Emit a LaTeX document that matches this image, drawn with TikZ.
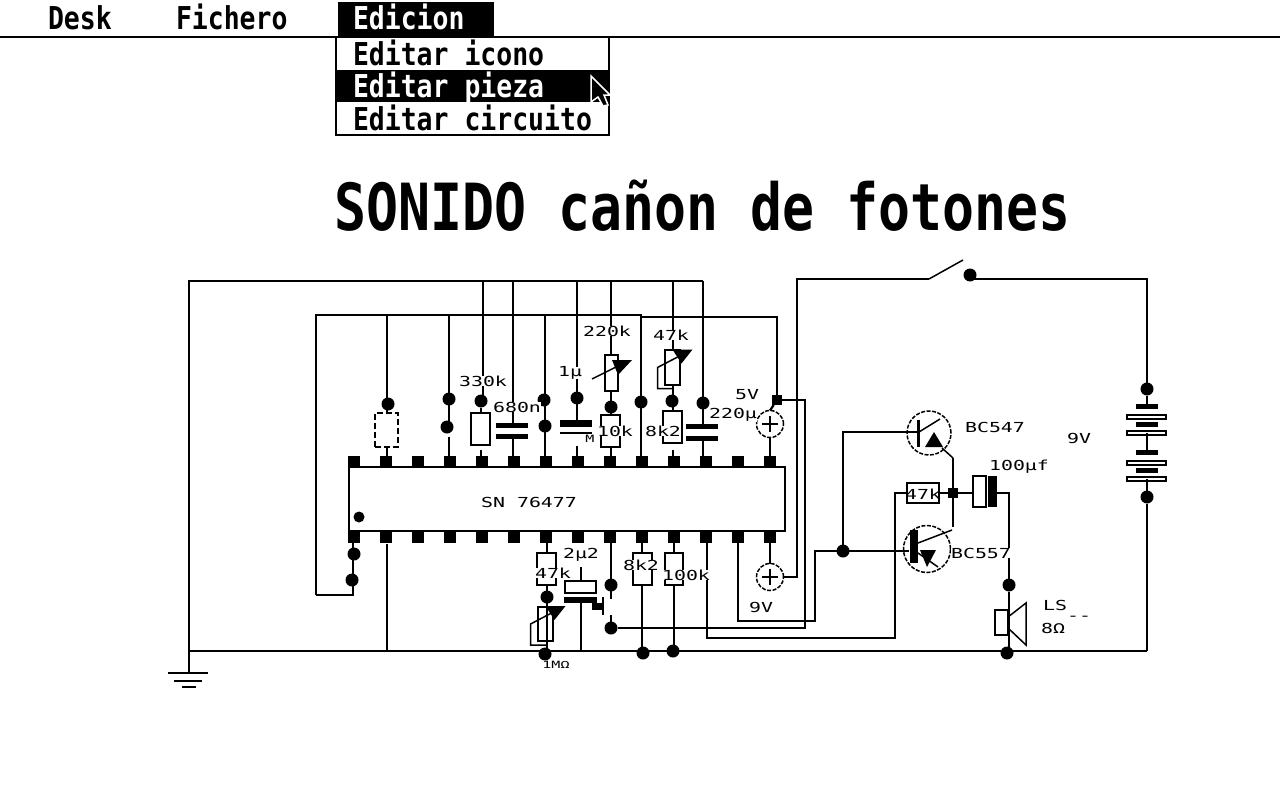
\documentclass[tikz,border=0pt]{standalone}
\usepackage{fontspec}
\usetikzlibrary{positioning}
\newfontfamily\pixfont[FakeStretch=1.44]{DejaVu Sans Mono}
\newfontfamily\tinyfont[FakeStretch=1.5]{DejaVu Sans Mono}
\newfontfamily\menufont[FakeStretch=.84]{DejaVu Sans Mono Bold}
\newfontfamily\titlefont[FakeStretch=.818]{DejaVu Sans Mono Bold}

\tikzset{
	gndsym/.pic={
		\draw [line width=2pt] (-21,1) -- (19,1);
		\draw [line width=2pt] (-15,9) -- (13,9);
		\draw [line width=2pt] (-7,15) -- (7,15);
	},
	crosspic/.pic={
		\draw [line width=1.5pt] (-8,0) -- (8,0);
		\draw [line width=1.5pt] (0,-8) -- (0,8);
	},
	varpic/.pic={
		\draw [line width=1.5pt] (-19,6) -- (9,-8);
		\fill (1,-13) -- (21,-13) -- (7,2) -- cycle;
	},
	looppic/.pic={
		\draw [line width=1.5pt] (8,-12) -- (-15,0) -- (-15,21) -- (1,21);
		\fill (0,-18) -- (20,-18) -- (9,-4) -- cycle;
	},
	npnpic/.pic={
		\draw [line width=3pt] (-11,-13) -- (-11,14);
		\draw [line width=1.5pt] (-10,-1) -- (11,-14);
		\draw [line width=1.5pt] (13,15) -- (24,25);
		\fill (-4,14) -- (14,14) -- (5,-1) -- cycle;
	},
	pnppic/.pic={
		\fill (-17,-19) rectangle (-9,14);
		\draw [line width=1.5pt] (-9,-6) -- (25,-19);
		\draw [line width=1.5pt] (-9,4) -- (11,18);
		\fill (-7,1) -- (9,1) -- (0,18) -- cycle;
	},
	spkpic/.pic={
		\draw [line width=1.5pt] (0,-5) -- (18,-19) -- (18,23) -- (0,6);
	},
}

\begin{document}
\begin{tikzpicture}[
		x=1pt,
		y=-1pt,
		line width=2pt,
		wire/.style={
			line width=2.2pt,
		},
		pin/.style={
			fill=black,
			minimum size=12pt,
			inner sep=0pt,
			outer sep=0pt,
		},
		dot/.style={
			circle,
			fill=black,
			minimum size=13pt,
			inner sep=0pt,
			outer sep=0pt,
		},
		res/.style={
			draw,
			fill=white,
			minimum width=19pt,
			minimum height=32pt,
			inner sep=0pt,
			outer sep=0pt,
		},
		plate/.style={
			fill=black,
			minimum width=32pt,
			minimum height=5pt,
			inner sep=0pt,
			outer sep=0pt,
		},
		batfill/.style={
			fill=black,
			minimum width=22pt,
			minimum height=5pt,
			inner sep=0pt,
			outer sep=0pt,
		},
		batopen/.style={
			draw,
			fill=white,
			minimum width=39pt,
			minimum height=4pt,
			inner sep=0pt,
			outer sep=0pt,
		},
		ring/.style={
			circle,
			draw,
			line width=1.5pt,
			dash pattern=on 4pt off 1.5pt,
			inner sep=0pt,
			outer sep=0pt,
		},
		lab/.style={
			font=\pixfont\fontsize{13.8}{14}\selectfont,
			fill=white,
			inner sep=0pt,
		},
		tinylab/.style={
			font=\tinyfont\fontsize{10}{11}\selectfont,
			fill=white,
			inner sep=0pt,
		},
		menutext/.style={
			font=\menufont\fontsize{31.5}{32}\selectfont,
			anchor=base west,
			inner sep=0pt,
		},
	]

	\useasboundingbox [fill=white] (0,0) rectangle (1280,800);

	% menu
	\coordinate (barL) at (0,37);
	\coordinate (barR) at (1280,37);
	\draw [wire] (barL) -- (barR);
	\node [menutext] (desk) at (47,30) {Desk};
	\node [menutext] (fichero) at (175,30) {Fichero};
	\node [fill=black, minimum width=156pt, minimum height=35pt, inner sep=0pt] (edbox) at (416,19.5) {};
	\node [menutext, text=white] (edicion) at (352,30) {Edicion};
	\node [draw, minimum width=273pt, minimum height=98pt, inner sep=0pt] (drop) at (472,86) {};
	\node [fill=black, minimum width=272pt, minimum height=32pt, inner sep=0pt] (sel) at (472,86) {};
	\node [menutext] (icono) at (352,66) {Editar icono};
	\node [menutext, text=white] (pieza) at (352,98) {Editar pieza};
	\node [menutext] (circuito) at (352,130) {Editar circuito};
	\fill [black, draw=white, line width=1.5pt] (591,76) -- (610,95) -- (604,95) -- (608,105) -- (603,106) -- (598,97) -- (591,102) -- cycle;

	\node [font=\titlefont\fontsize{65}{66}\selectfont, anchor=base west, inner sep=0pt] (title) at (333,230) {SONIDO cañon de fotones};

	% chip
	\node [draw, minimum width=436pt, minimum height=64pt, inner sep=0pt, outer sep=0pt] (chip) at (567,499) {};
	\foreach \n in {1,...,14} {
		\node [pin] (T\n) at (322+32*\n,461.5) {};
		\node [pin] (B\n) at (322+32*\n,536.5) {};
	}
	\node [dot, minimum size=11pt] (notch) at (359,517) {};

	% rails
	\coordinate (gndT) at (189,672);
	\coordinate (gndB) at (189,651);
	\foreach \n/\x in {3/483,6/513,8/577,9/611,11/673,12/703} {
		\coordinate (G\n) at (\x,281);
	}
	\foreach \n/\x in {2/387,4/449,7/545} {
		\coordinate (V\n) at (\x,315);
	}
	\coordinate (Vstep) at (641,315);
	\coordinate (Vstepb) at (641,317);
	\coordinate (Vend) at (777,317);
	\coordinate (Vleft) at (316,315);
	\coordinate (Vlow) at (316,595);
	\coordinate (railE) at (1147,651);

	% parts above the chip
	\node [dot] (d2) at (388,404) {};
	\node [res, dashed, dash pattern=on 6pt off 3pt, minimum width=23pt, minimum height=34pt] (Rdash) at (386,430) {};
	\node [dot] (d4a) at (449,399) {};
	\node [dot] (d4b) at (447,427) {};
	\coordinate (s4) at (449,437);
	\node [dot] (d5) at (481,401) {};
	\node [res] (R330) at (480,429) {};
	\coordinate (s5) at (481,450);
	\node [plate] (C6a) at (511.5,425) {};
	\node [plate] (C6b) at (511.5,436.5) {};
	\node [dot] (d7a) at (544,400) {};
	\node [dot] (d7b) at (545,426) {};
	\node [dot] (d8) at (577,398) {};
	\node [plate, minimum height=7pt] (C8a) at (576,423.5) {};
	\node [plate, minimum height=2pt] (C8b) at (576,433) {};
	\coordinate (s8) at (577,446);
	\node [res, minimum width=13pt, minimum height=36pt] (VR1) at (611,373) {};
	\node [dot] (d9) at (611,407) {};
	\node [res] (R10) at (610,431) {};
	\node [dot] (d10) at (641,402) {};
	\node [res, minimum width=15pt, minimum height=35pt] (VR2) at (672.5,367.5) {};
	\node [dot] (d11) at (672,401) {};
	\node [res] (R8k) at (672,427) {};
	\coordinate (s11) at (673,450);
	\node [dot] (d12) at (703,403) {};
	\node [plate] (C12a) at (702,426.5) {};
	\node [plate] (C12b) at (702,438.5) {};
	\node [dot, rectangle, minimum size=10pt] (d14) at (777,400) {};
	\node [ring, minimum size=27pt] (S1) at (770,424) {};
	\pic at (S1) {crosspic};
	\pic at (VR1) {varpic};
	\pic at (VR2) {looppic};

	% parts below the chip
	\node [dot] (d1a) at (354,554) {};
	\node [dot] (d1b) at (352,580) {};
	\coordinate (k1) at (353,595);
	\coordinate (s2) at (387,544);
	\coordinate (b2) at (387,651);
	\coordinate (c7) at (547,541);
	\node [res, minimum height=32pt] (R47) at (546,569) {};
	\node [dot] (d7c) at (547,597) {};
	\node [res, minimum width=15pt, minimum height=34pt] (VR3) at (545.5,624) {};
	\node [dot] (d7d) at (545,654) {};
	\pic at (VR3) {looppic};
	\node [res, minimum width=31pt, minimum height=12pt] (C2a) at (580,587) {};
	\node [fill=black, minimum width=33pt, minimum height=6pt, inner sep=0pt, outer sep=0pt] (C2b) at (580.5,600) {};
	\coordinate (s9t) at (581,567);
	\coordinate (b9) at (581,651);
	\fill (592,603) rectangle (603,610);
	\coordinate (k9t) at (603,597);
	\coordinate (k9b) at (603,615);
	\draw [wire] (k9t) -- (k9b);
	\node [dot] (d9b) at (611,585) {};
	\coordinate (s9a) at (611,599);
	\coordinate (s9b) at (611,615);
	\node [dot] (d9c) at (611,628) {};
	\node [res, minimum height=32pt] (R8b) at (642,569) {};
	\node [dot] (d10b) at (643,653) {};
	\node [res, minimum height=32pt, minimum width=18pt] (R100) at (674,569) {};
	\node [dot] (d11b) at (673,651) {};
	\node [ring, minimum size=27pt] (S2) at (770,577) {};
	\pic at (S2) {crosspic};

	% right side
	\coordinate (w5r) at (805,400);
	\coordinate (w5b) at (805,628);
	\coordinate (w5l) at (797,577);
	\coordinate (w4t) at (797,279);
	\coordinate (swA) at (929,279);
	\coordinate (swB) at (963,260);
	\node [dot] (swD) at (970,275) {};
	\coordinate (swC) at (970,279);
	\coordinate (batT) at (1147,279);
	\node [dot] (batD) at (1147,389) {};
	\node [batfill] (b1) at (1147,406.5) {};
	\node [batopen] (b2o) at (1146,416.5) {};
	\node [batfill] (b3) at (1147,424.5) {};
	\node [batopen] (b4o) at (1146,432.5) {};
	\node [batfill] (b5) at (1147,452.5) {};
	\node [batopen] (b6o) at (1146,463) {};
	\node [batfill] (b7) at (1147,470.5) {};
	\node [batopen] (b8o) at (1146,479) {};
	\node [dot] (batE) at (1147,497) {};

	\node [ring, minimum size=44pt] (Q1) at (929,433) {};
	\pic at (Q1) {npnpic};
	\node [ring, minimum size=47pt] (Q2) at (927,549) {};
	\pic at (Q2) {pnppic};
	\coordinate (Q1b) at (918,432);
	\coordinate (Q1e) at (953,458);
	\coordinate (Q2b) at (909,551);
	\coordinate (Q2c) at (953,527);

	\node [dot] (dQ) at (843,551) {};
	\coordinate (w12a) at (738,621);
	\coordinate (w12b) at (815,621);
	\coordinate (w12c) at (815,551);
	\coordinate (w11a) at (707,638);
	\coordinate (w11b) at (895,638);
	\coordinate (w11c) at (895,493);
	\node [res, minimum width=32pt, minimum height=20pt] (R47b) at (923,493) {};
	\node [dot, rectangle, minimum size=10pt] (dJ) at (953,493) {};
	\node [res, minimum width=13pt, minimum height=31pt] (C9a) at (979.5,491.5) {};
	\node [fill=black, minimum width=9pt, minimum height=31pt, inner sep=0pt, outer sep=0pt] (C9b) at (992.5,491.5) {};
	\coordinate (w9a) at (1009,493);
	\node [dot] (dS) at (1009,585) {};
	\node [res, fill=none, minimum width=13pt, minimum height=25pt] (SP) at (1001.5,622.5) {};
	\pic at (1008,622) {spkpic};
	\node [dot] (dE) at (1007,653) {};

	% wires
	\draw [wire] (gndT) |- (G12);
	\draw [wire] (gndB) -- (railE);
	\draw [wire] (Vlow) -- (Vleft) -- (Vstep) -- (Vstepb) -- (Vend) -- (d14);
	\draw [wire] (Vlow) -- (k1) -- (k1 |- B1);
	\draw [wire] (V2) -- (V2 |- Rdash.north);
	\draw [wire] (V2 |- Rdash.south) -- (V2 |- T2);
	\draw [wire] (V4) -- (V4 |- d4b);
	\draw [wire] (s4) -- (s4 |- T4);
	\draw [wire] (G3) -- (G3 |- d5);
	\draw [wire] (d5) -- (d5 |- R330.north);
	\draw [wire] (s5) -- (s5 |- T5);
	\draw [wire] (G6) -- (G6 |- C6a);
	\draw [wire] (G6 |- C6b) -- (G6 |- T6);
	\draw [wire] (V7) -- (V7 |- T7);
	\draw [wire] (G8) -- (G8 |- C8a);
	\draw [wire] (s8) -- (s8 |- T8);
	\draw [wire] (G9) -- (VR1);
	\draw [wire] (VR1) -- (G9 |- R10.north);
	\draw [wire] (G9 |- R10.south) -- (G9 |- T9);
	\draw [wire] (Vstep) -- (Vstep |- T10);
	\draw [wire] (G11) -- (G11 |- VR2.north);
	\draw [wire] (G11 |- VR2.south) -- (G11 |- R8k.north);
	\draw [wire] (s11) -- (s11 |- T11);
	\draw [wire] (G12) -- (G12 |- C12a);
	\draw [wire] (G12 |- C12b) -- (G12 |- T12);
	\draw [wire] (d14) -- (S1.north);
	\draw [wire] (S1.south) -- (T14);
	\draw [wire] (d14) -- (w5r) -- (w5b) -- (d9c);
	\draw [wire] (s2) -- (b2);
	\draw [wire] (c7) -- (c7 |- R47.north);
	\draw [wire] (c7 |- R47.south) -- (c7 |- d7d);
	\draw [wire] (s9t) -- (s9t |- C2a.north);
	\draw [wire] (s9t |- C2b) -- (b9);
	\draw [wire] (s9a |- B9) -- (s9a);
	\draw [wire] (s9b) -- (d9c);
	\draw [wire] (B10) -- (R8b);
	\draw [wire] (R8b) -- (R8b |- d10b);
	\draw [wire] (B11) -- (R100);
	\draw [wire] (R100) -- (R100 |- d11b);
	\draw [wire] (w11a |- B12) -- (w11a) -- (w11b) -- (w11c) -- (R47b);
	\draw [wire] (B13) -- (w12a) -- (w12b) -- (w12c) -- (Q2b);
	\draw [wire] (B14) -- (S2);
	\draw [wire] (S2) -- (w5l) -- (w4t) -- (swA);
	\draw [wire, line width=1.5pt] (swA) -- (swB);
	\draw [wire] (swC) -- (batT) -- (batD);
	\draw [wire] (batD) -- (b1);
	\draw [wire] (b5 |- b4o) -- (b5);
	\draw [wire] (batE |- b8o) -- (batE) -- (railE);
	\draw [wire] (dQ) |- (Q1b);
	\draw [wire] (Q1e) -- (dJ) -- (Q2c);
	\draw [wire] (R47b) -- (dJ);
	\draw [wire] (dJ) -- (dJ -| C9a.west);
	\draw [wire] (w9a -| C9b) -- (w9a) -- (dS);
	\draw [wire] (dS) -- (dS |- dE);
	\pic at (gndT) {gndsym};

	% labels
	\node [lab] (t330) at (483,381) {330k};
	\node [lab] (t680) at (517,407) {680n};
	\node [lab] (t1u) at (570,373) {1µ};
	\node [tinylab] (tM) at (590,439) {M};
	\node [lab] (t220) at (607,331) {220k};
	\node [lab] (t10k) at (615,431) {10k};
	\node [lab] (t8k) at (663,431) {8k2};
	\node [lab] (t47) at (671,335) {47k};
	\node [lab] (t220u) at (733,415) {220µ};
	\node [lab] (t5v) at (747,395) {5V};
	\node [lab] (tsn) at (529,502) {SN 76477};
	\node [lab] (t47b) at (553,573) {47k};
	\node [lab] (t2u2) at (581,555) {2µ2};
	\node [tinylab] (t1m) at (556,665) {1MΩ};
	\node [lab] (t8kb) at (641,565) {8k2};
	\node [lab] (t100) at (686,575) {100k};
	\node [lab] (t9v) at (761,607) {9V};
	\node [lab] (tbc5) at (995,427) {BC547};
	\node [lab] (tbc7) at (981,553) {BC557};
	\node [lab, fill=none] (t47c) at (923,494) {47k};
	\node [lab] (t100u) at (1019,467) {100µf};
	\node [lab] (t9vb) at (1079,438) {9V};
	\node [lab] (tls) at (1055,605) {LS};
	\node [lab] (t8o) at (1053,628) {8Ω};
	\node [lab] (tdash) at (1079,618) {--};

\end{tikzpicture}
\end{document}
